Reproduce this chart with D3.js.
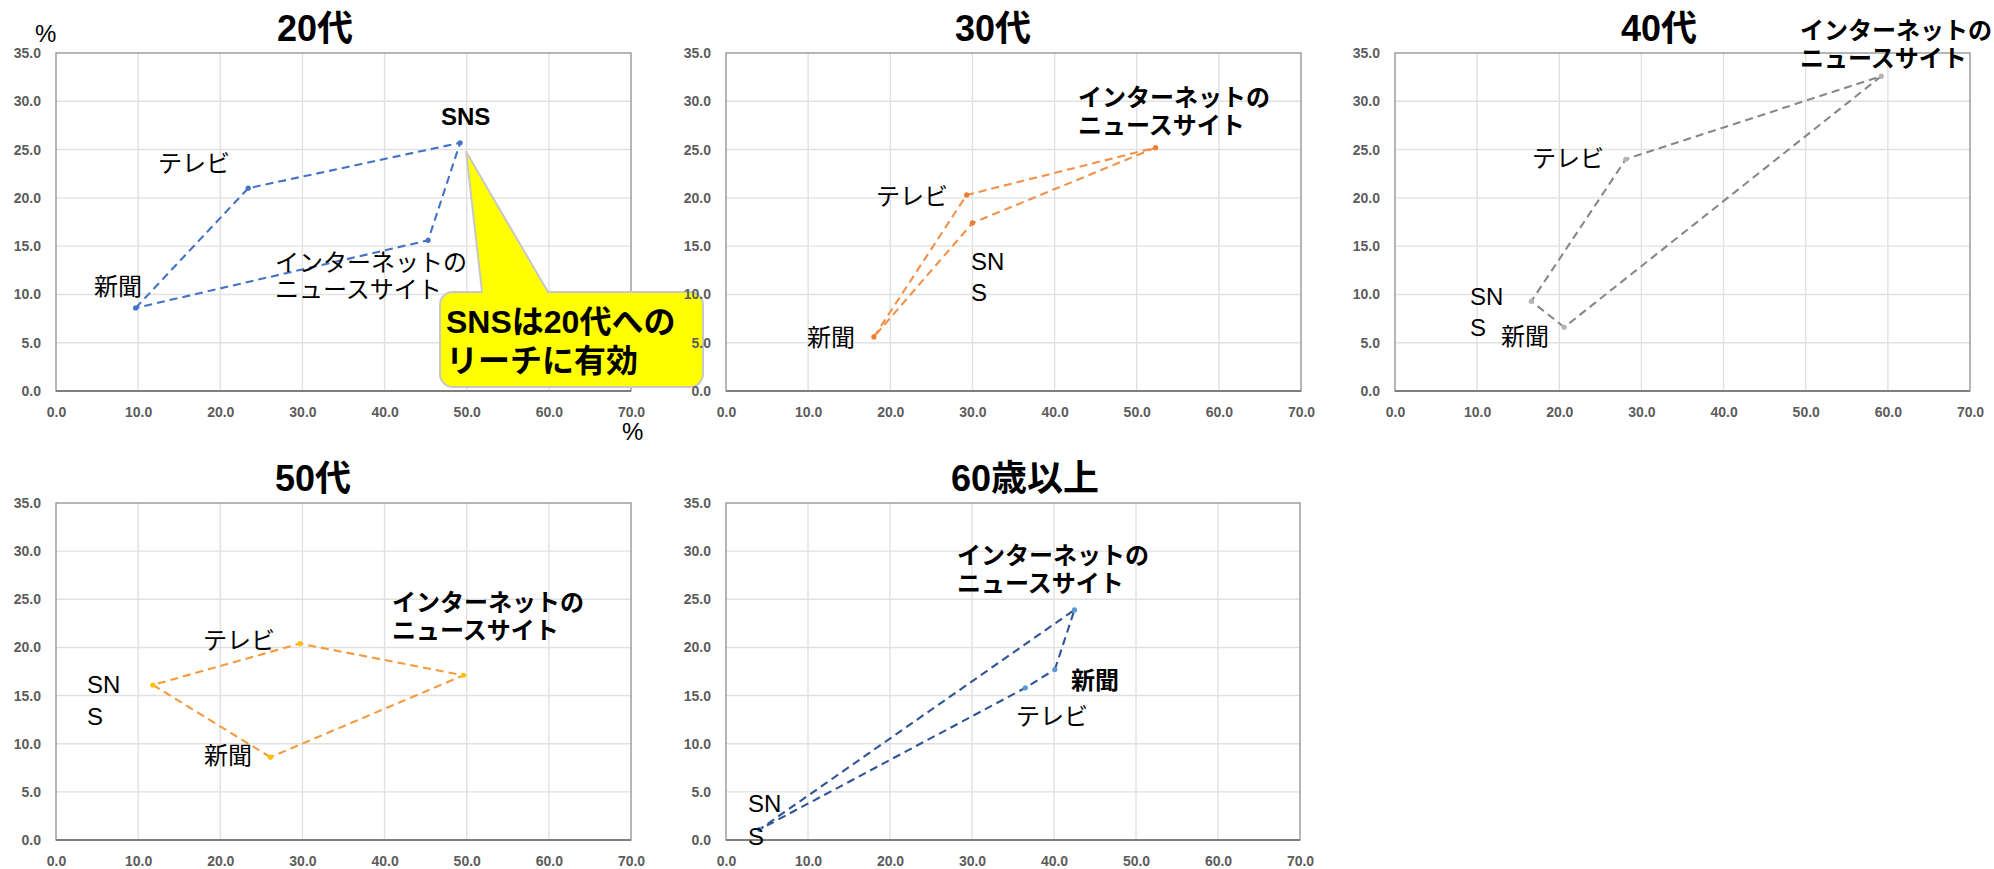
<!DOCTYPE html>
<html>
<head>
<meta charset="utf-8">
<script src="https://cdn.jsdelivr.net/npm/d3@7"></script>
<style>
  html, body { margin: 0; padding: 0; background: #ffffff; }
  svg { display: block; }
</style>
</head>
<body>
<svg id="chart" width="1994" height="869"></svg>
<script>
// ---- data -------------------------------------------------------------
const ageGroups = ["20代", "30代", "40代", "50代", "60歳以上"];
const mediaNames = ["新聞", "テレビ", "インターネットのニュースサイト", "SNS"];

// x / y shares (%) for each medium, in mediaNames order
const xShare20 = [9.7, 23.4, 45.3, 49.2];
const yShare20 = [8.6, 21.0, 15.6, 25.7];
const xShare30 = [18.0, 29.3, 52.3, 30.0];
const yShare30 = [5.6, 20.3, 25.2, 17.4];
const xShare40 = [20.6, 28.1, 59.2, 16.6];
const yShare40 = [6.6, 24.0, 32.6, 9.3];
const xShare50 = [26.1, 29.7, 49.6, 11.8];
const yShare50 = [8.6, 20.4, 17.1, 16.1];
const xShare60 = [40.1, 36.5, 42.5, 4.1];
const yShare60 = [17.7, 15.8, 23.9, 1.1];

// order in which the points of each group are joined into a closed loop
const loopOrder20 = [0, 1, 3, 2];
const loopOrder30 = [0, 1, 2, 3];
const loopOrder40 = [0, 3, 1, 2];
const loopOrder50 = [0, 3, 1, 2];
const loopOrder60 = [0, 2, 3, 1];

const xTicks = [0, 10, 20, 30, 40, 50, 60, 70];
const yTicks = [0, 5, 10, 15, 20, 25, 30, 35];
const calloutLines = ["SNSは20代への", "リーチに有効"];

// ---- layout & style ---------------------------------------------------
const series = [
  { xs: xShare20, ys: yShare20, order: loopOrder20 },
  { xs: xShare30, ys: yShare30, order: loopOrder30 },
  { xs: xShare40, ys: yShare40, order: loopOrder40 },
  { xs: xShare50, ys: yShare50, order: loopOrder50 },
  { xs: xShare60, ys: yShare60, order: loopOrder60 }
];

const panelLayout = [
  { left: 56,   top: 53,  width: 575, height: 338, titleX: 221 },
  { left: 726,  top: 53,  width: 575, height: 338, titleX: 229 },
  { left: 1395, top: 53,  width: 575, height: 338, titleX: 226 },
  { left: 56,   top: 503, width: 575, height: 337, titleX: 219 },
  { left: 726,  top: 503, width: 574, height: 337, titleX: 225 }
];

const panelStyle = [
  { line: "#4472c4", dot: "#4472c4" },
  { line: "#f2914a", dot: "#ed7d31" },
  { line: "#888888", dot: "#b4b4b4" },
  { line: "#f59a3e", dot: "#ffc000" },
  { line: "#2f5597", dot: "#5b9bd5" }
];

// label placement (pixels inside each plot); idx = medium index
const labelLayout = [
  [
    { idx: 1, dx: 102, dy: 119, bold: false, lines: ["テレビ"] },
    { idx: 0, dx: 38,  dy: 242, bold: false, lines: ["新聞"] },
    { idx: 3, dx: 385, dy: 72,  bold: true,  lines: ["SNS"] },
    { idx: 2, dx: 219, dy: 218, bold: false, lines: ["インターネットの", "ニュースサイト"], gap: 27 }
  ],
  [
    { idx: 2, dx: 352, dy: 53,  bold: true,  lines: ["インターネットの", "ニュースサイト"], gap: 28 },
    { idx: 1, dx: 150, dy: 152, bold: false, lines: ["テレビ"] },
    { idx: 3, dx: 245, dy: 217, bold: false, lines: ["SN", "S"], gap: 31 },
    { idx: 0, dx: 81,  dy: 293, bold: false, lines: ["新聞"] }
  ],
  [
    { idx: 2, dx: 405, dy: -14, bold: true,  lines: ["インターネットの", "ニュースサイト"], gap: 28 },
    { idx: 1, dx: 137, dy: 114, bold: false, lines: ["テレビ"] },
    { idx: 3, dx: 75,  dy: 252, bold: false, lines: ["SN", "S"], gap: 31 },
    { idx: 0, dx: 106, dy: 292, bold: false, lines: ["新聞"] }
  ],
  [
    { idx: 2, dx: 336, dy: 108, bold: true,  lines: ["インターネットの", "ニュースサイト"], gap: 28 },
    { idx: 1, dx: 147, dy: 146, bold: false, lines: ["テレビ"] },
    { idx: 3, dx: 31,  dy: 190, bold: false, lines: ["SN", "S"], gap: 32 },
    { idx: 0, dx: 148, dy: 261, bold: false, lines: ["新聞"] }
  ],
  [
    { idx: 2, dx: 231, dy: 61,  bold: true,  lines: ["インターネットの", "ニュースサイト"], gap: 28 },
    { idx: 0, dx: 345, dy: 186, bold: true,  lines: ["新聞"] },
    { idx: 1, dx: 290, dy: 222, bold: false, lines: ["テレビ"] },
    { idx: 3, dx: 22,  dy: 309, bold: false, lines: ["SN", "S"], gap: 33 }
  ]
];

const FONT = "'Liberation Sans', 'Noto Sans CJK JP', sans-serif";
const svg = d3.select("#chart");

function drawPanel(i) {
  const L = panelLayout[i];
  const S = panelStyle[i];
  const data = series[i];
  const g = svg.append("g").attr("transform", `translate(${L.left},${L.top})`);

  const x = d3.scaleLinear().domain([0, 70]).range([0, L.width]);
  const y = d3.scaleLinear().domain([0, 35]).range([L.height, 0]);

  // gridlines
  g.append("g").selectAll("line")
    .data(xTicks.slice(1, -1)).join("line")
    .attr("x1", d => x(d)).attr("x2", d => x(d))
    .attr("y1", 0).attr("y2", L.height)
    .attr("stroke", "#e1e1e1").attr("stroke-width", 1.4);
  g.append("g").selectAll("line")
    .data(yTicks.slice(1, -1)).join("line")
    .attr("x1", 0).attr("x2", L.width)
    .attr("y1", d => y(d)).attr("y2", d => y(d))
    .attr("stroke", "#e1e1e1").attr("stroke-width", 1.4);

  // plot frame
  g.append("rect")
    .attr("x", 0).attr("y", 0)
    .attr("width", L.width).attr("height", L.height)
    .attr("fill", "none").attr("stroke", "#8f8f8f").attr("stroke-width", 1.3);
  g.append("line")
    .attr("x1", 0).attr("x2", L.width)
    .attr("y1", L.height).attr("y2", L.height)
    .attr("stroke", "#7f7f7f").attr("stroke-width", 2);

  // axes (labels only)
  const styleAxis = sel => {
    sel.select(".domain").remove();
    sel.selectAll("text")
      .attr("fill", "#5c5c5c")
      .style("font-family", FONT)
      .style("font-size", "14px")
      .style("font-weight", "bold");
  };
  g.append("g")
    .attr("transform", `translate(0,${L.height})`)
    .call(d3.axisBottom(x).tickValues(xTicks).tickFormat(d3.format(".1f"))
      .tickSize(0).tickPadding(16))
    .call(styleAxis);
  g.append("g")
    .call(d3.axisLeft(y).tickValues(yTicks).tickFormat(d3.format(".1f"))
      .tickSize(0).tickPadding(15))
    .call(styleAxis);

  // closed loop joining the four media
  const pts = data.order.map(k => [data.xs[k], data.ys[k]]);
  g.append("path")
    .datum(pts)
    .attr("d", d3.line().x(d => x(d[0])).y(d => y(d[1])).curve(d3.curveLinearClosed))
    .attr("fill", "none")
    .attr("stroke", S.line)
    .attr("stroke-width", 2.1)
    .attr("stroke-dasharray", "8,5");

  g.append("g").selectAll("circle")
    .data(data.xs.map((v, k) => [v, data.ys[k]])).join("circle")
    .attr("cx", d => x(d[0])).attr("cy", d => y(d[1]))
    .attr("r", 2.6).attr("fill", S.dot);

  // callout on the 20s panel
  if (i === 0) {
    const tipX = x(data.xs[3]) + 6, tipY = y(data.ys[3]) + 9;
    const bx0 = 384, by0 = 239, bx1 = 647, by1 = 334, r = 13;
    const b1 = 426, b2 = 492;
    const p = d3.path();
    p.moveTo(bx0 + r, by0);
    p.lineTo(b1, by0);
    p.lineTo(tipX, tipY);
    p.lineTo(b2, by0);
    p.lineTo(bx1 - r, by0);
    p.arcTo(bx1, by0, bx1, by0 + r, r);
    p.lineTo(bx1, by1 - r);
    p.arcTo(bx1, by1, bx1 - r, by1, r);
    p.lineTo(bx0 + r, by1);
    p.arcTo(bx0, by1, bx0, by1 - r, r);
    p.lineTo(bx0, by0 + r);
    p.arcTo(bx0, by0, bx0 + r, by0, r);
    p.closePath();
    g.append("path")
      .attr("d", p.toString())
      .attr("fill", "#ffff00")
      .attr("stroke", "#c8c8c8")
      .attr("stroke-width", 2)
      .attr("stroke-linejoin", "round");
    g.append("text")
      .attr("x", 390).attr("y", 280)
      .style("font-family", FONT).style("font-size", "32px").style("font-weight", "bold")
      .attr("fill", "#000")
      .selectAll("tspan").data(calloutLines).join("tspan")
      .attr("x", 390).attr("dy", (d, k) => k === 0 ? 0 : 39)
      .text(d => d);
  }

  // media labels
  labelLayout[i].forEach(lab => {
    const t = g.append("text")
      .attr("x", lab.dx).attr("y", lab.dy)
      .style("font-family", FONT)
      .style("font-size", "24px")
      .style("font-weight", lab.bold ? "bold" : "normal")
      .attr("fill", "#000");
    t.selectAll("tspan").data(lab.lines).join("tspan")
      .attr("x", lab.dx)
      .attr("dy", (d, k) => k === 0 ? 0 : lab.gap)
      .text(d => d);
  });

  // title
  svg.append("text")
    .attr("x", L.left + L.titleX).attr("y", L.top - 12)
    .style("font-family", FONT).style("font-size", "36px").style("font-weight", "bold")
    .attr("fill", "#000")
    .text(ageGroups[i]);
}

ageGroups.forEach((_, i) => drawPanel(i));

// unit labels on the first panel
svg.append("text").attr("x", 35).attr("y", 42)
  .style("font-family", FONT).style("font-size", "24px").attr("fill", "#000").text("%");
svg.append("text").attr("x", 622).attr("y", 440)
  .style("font-family", FONT).style("font-size", "24px").attr("fill", "#000").text("%");
</script>
</body>
</html>
